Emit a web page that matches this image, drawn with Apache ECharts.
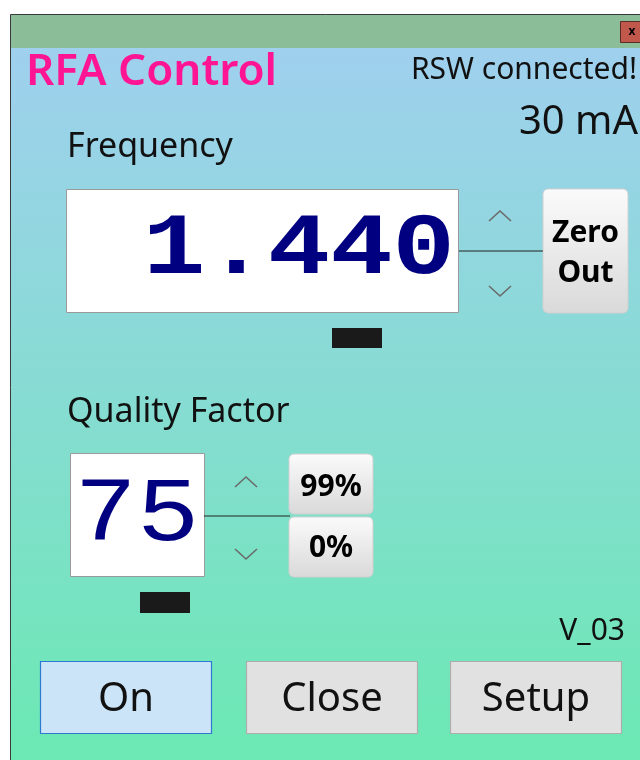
<!DOCTYPE html>
<html><head><meta charset="utf-8">
<script src="https://cdn.jsdelivr.net/npm/echarts@6/dist/echarts.min.js"></script>
<style>html,body{margin:0;padding:0;background:#fff}#c{width:640px;height:760px}</style>
</head><body><div id="c"></div>
<script>
var appTitle = ["RFA Control"];
var statusTexts = ["RSW connected!", "30 mA"];
var fieldLabels = ["Frequency", "Quality Factor"];
var fieldValues = ["1.440", "75"];
var zeroButtonLines = ["Zero", "Out"];
var qfButtons = ["99%", "0%"];
var versionText = ["V_03"];
var bottomButtons = ["On", "Close", "Setup"];

var chart = echarts.init(document.getElementById('c'), null, {renderer: 'canvas'});
var UI = '"Noto Sans", "Open Sans", sans-serif';
var MONO = '"Liberation Mono", "DejaVu Sans Mono", monospace';
function txt(x, y, s, size, color, align, weight, fam) {
  return {type: 'text', z: 10, style: {x: x, y: y, text: s, fill: color || '#000',
    font: (weight || 'normal') + ' ' + size + 'px ' + (fam || UI), align: align || 'left', verticalAlign: 'middle'}};
}
function bigTxt(x, y, s, size, align, weight, sy) {
  return {type: 'text', z: 10, x: x, y: y, scaleY: sy, style: {x: 0, y: 0, text: s, fill: '#000080',
    font: weight + ' ' + size + 'px ' + MONO, align: align, verticalAlign: 'middle'}};
}
function rect(x, y, w, h, fill, stroke, r, lw) {
  return {type: 'rect', shape: {x: x, y: y, width: w, height: h, r: r || 0},
    style: {fill: fill, stroke: stroke || null, lineWidth: lw || 1}};
}
function chevron(cx, cy, up) {
  var d = up ? -1 : 1;
  return {type: 'polyline', z: 5, shape: {points: [[cx - 11, cy - 5 * d], [cx, cy + 5 * d], [cx + 11, cy - 5 * d]]},
    style: {stroke: '#6a6a6a', lineWidth: 1.6, fill: null}};
}
function line(x1, y1, x2, y2, c) {
  return {type: 'line', z: 4, shape: {x1: x1, y1: y1, x2: x2, y2: y2}, style: {stroke: c || '#222', lineWidth: 1.2}};
}
var btnGrad = {type: 'linear', x: 0, y: 0, x2: 0, y2: 1, colorStops: [{offset: 0, color: '#fbfbfb'}, {offset: 1, color: '#d9d9d9'}]};
var els = [];
els.push(rect(0, 0, 640, 760, '#ffffff'));
els.push(rect(10.5, 14.5, 640, 760, '#8bbe98', '#3a3a3a', 0, 1));
els.push(rect(11, 48, 640, 712, {type: 'linear', x: 0, y: 0, x2: 0, y2: 1,
  colorStops: [{offset: 0, color: '#9fd0ee'}, {offset: 0.5, color: '#86dcd2'}, {offset: 1, color: '#6be9b3'}]}));
els.push(rect(620.5, 21.5, 22, 21, '#c0584c', '#5a2a25', 0, 1));
els.push(txt(632, 32, 'x', 12, '#000', 'center', 'bold'));
els.push(txt(26, 72, appTitle[0], 44, '#ff1493', 'left', '600'));
els.push(txt(637, 70, statusTexts[0], 30, '#111', 'right'));
els.push(txt(638, 123, statusTexts[1], 40, '#111', 'right'));
els.push(txt(67, 147, fieldLabels[0], 34, '#111', 'left'));
els.push(line(459, 251, 543, 251));
els.push(rect(66.5, 189.5, 392, 123, '#ffffff', '#9a9a9a'));
els.push(bigTxt(455, 251, fieldValues[0], 104, 'right', 'bold', 0.84));
els.push(rect(332, 328, 50, 20, '#1a1a1a'));
els.push(chevron(500, 216, true));
els.push(chevron(500, 291, false));
els.push(rect(543, 189, 85, 124, btnGrad, '#d0d0d0', 5));
els.push(txt(585.5, 233, zeroButtonLines[0], 30, '#000', 'center', 'bold'));
els.push(txt(585.5, 273, zeroButtonLines[1], 30, '#000', 'center', 'bold'));
els.push(txt(67, 412, fieldLabels[1], 34, '#111', 'left'));
els.push(line(204, 516, 290, 516));
els.push(rect(70.5, 453.5, 134, 123, '#ffffff', '#9a9a9a'));
els.push(bigTxt(137, 516, fieldValues[1], 104, 'center', 'normal', 0.87));
els.push(rect(140, 592, 50, 21, '#1a1a1a'));
els.push(chevron(246, 482, true));
els.push(chevron(246, 554, false));
els.push(rect(289, 454, 84, 60, btnGrad, '#d0d0d0', 5));
els.push(rect(289, 517, 84, 60, btnGrad, '#d0d0d0', 5));
els.push(txt(331, 487, qfButtons[0], 30, '#000', 'center', 'bold'));
els.push(txt(331, 548, qfButtons[1], 30, '#000', 'center', 'bold'));
els.push(txt(625, 631, versionText[0], 30, '#111', 'right'));
var bx = [40, 246, 450];
for (var i = 0; i < bottomButtons.length; i++) {
  var on = i === 0;
  els.push(rect(bx[i] + 0.5, 661.5, 171, 72, on ? '#cce4f7' : '#e1e1e1', on ? '#2c7ad0' : '#adadad', 0, 1.2));
  els.push(txt(bx[i] + 86, 700, bottomButtons[i], 40, '#111', 'center'));
}
chart.setOption({animation: false, graphic: {elements: els}});
</script></body></html>
